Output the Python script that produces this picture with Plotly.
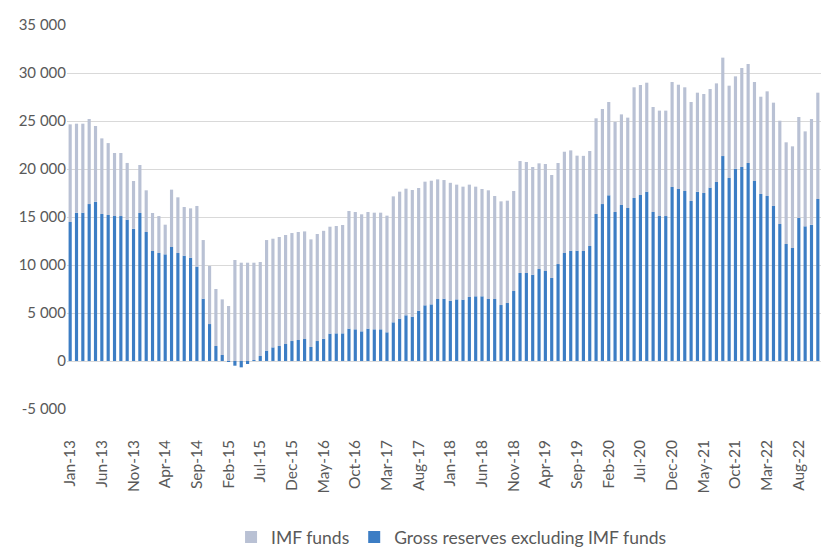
import plotly.graph_objects as go

month_names = ["Jan", "Feb", "Mar", "Apr", "May", "Jun",
               "Jul", "Aug", "Sep", "Oct", "Nov", "Dec"]
years = list(range(13, 23))
categories = [f"{m}-{y:02d}" for y in years for m in month_names][:119]

gross_ex_imf = [
    14480, 15450, 15450, 16350, 16600, 15310, 15210, 15100, 15100, 14720,
    13780, 15420, 13440, 11460, 11250, 11110, 11875, 11250, 10970, 10760,
    9830, 6490, 3850, 1560, 625, -50, -490, -660, -310, 100,
    520, 1080, 1420, 1560, 1770, 2080, 2190, 2290, 1460, 2080,
    2310, 2850, 2880, 2880, 3370, 3300, 3090, 3370, 3300, 3300,
    2990, 4030, 4410, 4760, 4620, 5240, 5800, 5900, 6460, 6490,
    6260, 6420, 6390, 6670, 6740, 6740, 6460, 6460, 5830, 6040,
    7290, 9170, 9170, 8990, 9580, 9375, 8650, 10100, 11250, 11490,
    11490, 11460, 11980, 15310, 16350, 17260, 15520, 16250, 15940, 16980,
    17290, 17640, 15520, 15100, 15100, 18125, 17920, 17710, 16670, 17640,
    17500, 18060, 18650, 21350, 19060, 20030, 20210, 20625, 18750, 17400,
    17190, 16150, 14270, 12190, 11770, 14900, 14030, 14200, 16875,
]

imf_funds = [
    10170, 9270, 9270, 8860, 7880, 7880, 7490, 6570, 6570, 5910,
    4970, 5000, 4340, 3960, 3850, 3090, 5975, 5800, 5070, 5140,
    6320, 6110, 6050, 5940, 5795, 5730, 10520, 10240, 10240, 10140,
    9790, 11520, 11320, 11360, 11355, 11250, 11250, 11210, 11210, 11150,
    11250, 11140, 11180, 11290, 12255, 12220, 12190, 12150, 12150, 12150,
    12150, 13120, 13230, 13190, 13190, 12780, 12880, 12880, 12460, 12360,
    12300, 11950, 11770, 11700, 11420, 11180, 11320, 10730, 10800, 10660,
    10420, 11660, 11560, 11220, 11010, 11145, 10725, 10525, 10550, 10450,
    9900, 9910, 9895, 9970, 9900, 9720, 9380, 9440, 9410, 11530,
    11460, 11350, 10940, 10980, 10980, 10935, 10860, 10800, 10310, 10310,
    10310, 10270, 10270, 10250, 9620, 9620, 10310, 10315, 10310, 10130,
    10900, 10760, 10760, 10590, 10590, 10520, 9890, 11010, 11075,
]

y_ticks = [-5000, 0, 5000, 10000, 15000, 20000, 25000, 30000, 35000]
y_ticktext = ["-5 000", "0", "5 000", "10 000", "15 000", "20 000",
              "25 000", "30 000", "35 000"]
x_ticks = categories[::5]

FONT = "Lato, 'Noto Sans', sans-serif"
TXT = "#595959"

fig = go.Figure()
fig.add_trace(go.Bar(
    x=categories, y=gross_ex_imf, name="Gross reserves excluding IMF funds",
    marker=dict(color="#3C7DC4", line=dict(width=0)),
))
fig.add_trace(go.Bar(
    x=categories, y=imf_funds, name="IMF funds",
    marker=dict(color="#B9C1D4", line=dict(width=0)),
))

fig.update_layout(
    width=821, height=547,
    margin=dict(l=67, r=0, t=25, b=138),
    barmode="relative",
    bargap=0.5,
    plot_bgcolor="white",
    paper_bgcolor="white",
    font=dict(family=FONT, size=15, color=TXT),
    showlegend=True,
    legend=dict(
        orientation="h", traceorder="reversed",
        xref="container", x=0.55, xanchor="center",
        yref="container", y=0.018, yanchor="middle",
        font=dict(family=FONT, size=17.5, color=TXT),
        itemwidth=30,
    ),
    xaxis=dict(
        type="category",
        tickmode="array", tickvals=x_ticks, ticktext=x_ticks,
        tickangle=-90,
        showgrid=False, showline=False, zeroline=False,
        ticks="", ticklabelstandoff=27,
        tickfont=dict(family=FONT, size=15.5, color=TXT),
    ),
    yaxis=dict(
        range=[-5000, 35000],
        tickmode="array", tickvals=y_ticks, ticktext=y_ticktext,
        showgrid=True, gridcolor="#D9D9D9", gridwidth=1.2,
        zeroline=True, zerolinecolor="#D9D9D9", zerolinewidth=1.2,
        showline=False, ticks="",
        tickfont=dict(family=FONT, size=15, color=TXT),
    ),
)

fig.write_html(
    "out.html",
    config={"displayModeBar": False},
    post_script="document.body.style.margin='0px';document.body.style.overflow='hidden';",
)
